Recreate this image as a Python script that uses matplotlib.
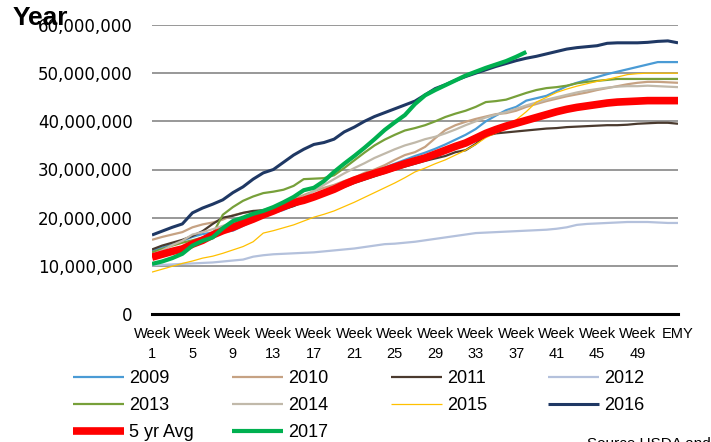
"""
plot.py
Cumulative weekly totals by marketing year, with the 5 year average.
"""

import matplotlib
matplotlib.use('Agg')
import matplotlib.pyplot as plt
from matplotlib.ticker import FuncFormatter

# categories: week 1 .. week 52, then end of marketing year
weeks = ['Week %d' % w for w in range(1, 53)] + ['EMY']
tick_idx = list(range(0, 52, 4)) + [52]
tick_labels = ['Week\n%d' % (i + 1) for i in range(0, 52, 4)] + ['EMY']

# values in millions
y2009 = [13.0, 13.8, 14.4, 15.2, 16.0, 16.6, 16.9, 17.0, 17.3, 18.3, 19.3, 20.2, 21.0, 21.6,
         22.5, 23.5, 24.3, 25.2, 26.2, 27.2, 28.0, 28.8, 29.6, 30.4, 31.2, 32.0, 32.8, 33.5,
         34.3, 35.2, 36.2, 37.2, 38.4, 40.0, 41.2, 42.3, 43.0, 44.3, 44.8, 45.3, 46.3, 47.3,
         48.0, 48.6, 49.2, 49.8, 50.3, 50.8, 51.3, 51.8, 52.3, 52.3, 52.3]
y2010 = [15.4, 16.0, 16.5, 17.0, 18.0, 18.6, 19.0, 19.6, 20.5, 21.0, 21.3, 21.6, 22.2, 22.8,
         23.8, 24.7, 25.5, 26.2, 26.8, 27.6, 28.3, 29.3, 30.0, 30.9, 32.0, 33.0, 33.6, 34.7,
         36.5, 38.2, 39.2, 39.9, 40.5, 41.0, 41.5, 41.7, 42.2, 43.0, 43.6, 44.2, 44.7, 45.2,
         45.6, 46.0, 46.5, 46.9, 47.3, 47.7, 48.0, 48.2, 48.2, 48.1, 48.0]
y2011 = [13.4, 14.2, 14.8, 15.4, 16.2, 17.2, 18.7, 20.0, 20.4, 21.0, 21.4, 21.5, 21.6, 21.8,
         22.4, 23.3, 24.2, 24.8, 25.6, 26.4, 27.2, 27.9, 28.6, 29.3, 30.0, 30.6, 31.2, 31.8,
         32.3, 32.8, 33.6, 34.0, 35.3, 37.0, 37.5, 37.7, 37.9, 38.1, 38.3, 38.5, 38.6, 38.8,
         38.9, 39.0, 39.1, 39.2, 39.2, 39.3, 39.5, 39.6, 39.7, 39.7, 39.5]
y2012 = [10.1, 10.2, 10.3, 10.4, 10.5, 10.6, 10.7, 10.9, 11.1, 11.3, 11.9, 12.2, 12.4, 12.5,
         12.6, 12.7, 12.8, 13.0, 13.2, 13.4, 13.6, 13.9, 14.2, 14.5, 14.6, 14.8, 15.0, 15.3,
         15.6, 15.9, 16.2, 16.5, 16.8, 16.9, 17.0, 17.1, 17.2, 17.3, 17.4, 17.5, 17.7, 18.0,
         18.5, 18.7, 18.8, 18.9, 19.0, 19.1, 19.1, 19.1, 19.0, 18.9, 18.9]
y2013 = [12.8, 13.5, 14.2, 14.8, 15.3, 15.9, 16.6, 20.6, 22.2, 23.5, 24.4, 25.1, 25.4, 25.8,
         26.6, 28.0, 28.1, 28.2, 28.8, 30.3, 31.9, 33.5, 35.0, 36.2, 37.2, 38.1, 38.6, 39.2,
         40.0, 40.9, 41.6, 42.2, 43.0, 44.0, 44.2, 44.5, 45.2, 45.9, 46.5, 46.9, 47.1, 47.4,
         47.9, 48.2, 48.4, 48.6, 48.8, 48.8, 48.8, 48.8, 48.8, 48.8, 48.8]
y2014 = [12.3, 13.2, 14.3, 15.2, 16.5, 17.0, 17.6, 18.3, 19.0, 20.0, 20.8, 21.3, 21.9, 22.5,
         23.3, 24.3, 25.5, 26.8, 28.0, 29.2, 30.3, 31.3, 32.4, 33.3, 34.2, 35.0, 35.6, 36.3,
         36.8, 37.5, 38.3, 39.2, 40.0, 40.8, 41.4, 41.9, 42.6, 43.3, 43.9, 44.5, 45.0, 45.5,
         46.0, 46.4, 46.7, 47.0, 47.2, 47.3, 47.3, 47.4, 47.3, 47.2, 47.1]
y2015 = [8.7, 9.3, 9.9, 10.5, 11.0, 11.6, 12.0, 12.6, 13.3, 14.0, 15.0, 16.8, 17.3, 17.9,
         18.5, 19.3, 20.1, 20.7, 21.4, 22.3, 23.2, 24.2, 25.2, 26.2, 27.2, 28.3, 29.5, 30.3,
         31.2, 32.0, 33.0, 34.0, 35.2, 36.6, 37.6, 38.5, 40.3, 42.0, 44.0, 45.0, 46.0, 46.7,
         47.3, 47.8, 48.3, 48.7, 49.2, 49.7, 49.9, 50.0, 50.0, 50.0, 50.0]
y2016 = [16.4, 17.2, 18.0, 18.7, 21.0, 22.0, 22.8, 23.7, 25.2, 26.4, 28.0, 29.3, 30.0, 31.5,
         33.0, 34.2, 35.2, 35.6, 36.3, 37.8, 38.8, 40.0, 41.0, 41.8, 42.6, 43.4, 44.2, 45.5,
         46.8, 47.6, 48.5, 49.3, 50.0, 50.7, 51.4, 52.0, 52.6, 53.1, 53.5, 54.0, 54.5, 55.0,
         55.3, 55.5, 55.7, 56.2, 56.3, 56.3, 56.3, 56.4, 56.6, 56.7, 56.3]
avg5 = [11.8, 12.4, 13.0, 13.5, 14.5, 15.3, 16.4, 17.3, 18.0, 18.9, 19.7, 20.6, 21.4, 22.3,
        23.1, 23.6, 24.3, 25.1, 25.9, 26.9, 27.8, 28.5, 29.2, 29.8, 30.5, 31.2, 31.8, 32.4,
        33.2, 34.0, 34.8, 35.5, 36.5, 37.5, 38.3, 39.0, 39.6, 40.2, 40.8, 41.4, 42.0, 42.5,
        42.9, 43.2, 43.5, 43.8, 44.0, 44.1, 44.2, 44.3, 44.3, 44.3, 44.3]
y2017 = [10.4, 10.9, 11.6, 12.5, 14.2, 15.2, 15.9, 17.8, 19.3, 20.0, 20.8, 21.4, 22.2, 23.2,
         24.3, 25.7, 26.2, 27.6, 29.5, 31.2, 32.8, 34.5, 36.3, 38.2, 39.8, 41.3, 43.6, 45.4,
         46.5, 47.5, 48.5, 49.5, 50.3, 51.1, 51.8, 52.5, 53.4, 54.4]

# label, values, colour, line width (drawing order)
series = [
    ('2009', y2009, '#4a9bd5', 1.6),
    ('2010', y2010, '#c6a283', 1.6),
    ('2011', y2011, '#4a3a2e', 1.6),
    ('2012', y2012, '#b4c1dc', 1.6),
    ('2013', y2013, '#77a03a', 1.6),
    ('2014', y2014, '#c1b9aa', 1.6),
    ('2015', y2015, '#ffc000', 0.9),
    ('2016', y2016, '#1f3864', 2.2),
    ('5 yr Avg', avg5, '#ff0000', 5.5),
    ('2017', y2017, '#00b050', 3.0),
]

fig = plt.figure(figsize=(7.11, 4.42), dpi=100)
ax = fig.add_axes([152 / 711, 1 - 314 / 442, 526 / 711, 289 / 442])

lines = {}
for name, vals, col, lw in series:
    xs = list(range(len(vals)))
    ys = [v * 1e6 for v in vals]
    ln, = ax.plot(xs, ys, color=col, lw=lw, label=name, solid_capstyle='butt')
    lines[name] = ln

ax.set_xlim(0, 52)
ax.set_ylim(0, 60e6)
ax.set_yticks([i * 10e6 for i in range(7)])
ax.yaxis.set_major_formatter(FuncFormatter(lambda v, p: '{:,.0f}'.format(v)))
ax.grid(axis='y', color='#868686', lw=1.2)
ax.set_axisbelow(True)
for s in ['top', 'right', 'left']:
    ax.spines[s].set_visible(False)
ax.spines['bottom'].set_color('black')
ax.spines['bottom'].set_linewidth(2.2)
ax.spines['bottom'].set_zorder(5)

ax.set_xticks(tick_idx)
ax.set_xticklabels(tick_labels, fontsize=10.5, family='Liberation Sans',
                   linespacing=1.5, va='top')
ax.tick_params(axis='x', length=0, pad=9.5)
ax.tick_params(axis='y', length=0, pad=14, labelsize=12)

# legend, one column each, laid out in reading order
cols = [['2009', '2013', '5 yr Avg'], ['2010', '2014', '2017'],
        ['2011', '2015'], ['2012', '2016']]
col_x = [73, 232, 391, 548]
for names, x in zip(cols, col_x):
    fig.legend([lines[n] for n in names], names, loc='upper left',
               bbox_to_anchor=(x / 711, 1 - 370 / 442), frameon=False,
               borderpad=0, borderaxespad=0, handlelength=2.8,
               handletextpad=0.3, labelspacing=0.56,
               prop={'family': 'Liberation Sans', 'size': 13})

fig.text(13 / 711, 1 - 25 / 442, 'Year', fontsize=19, fontweight='bold',
         family='Liberation Sans', va='baseline', ha='left')
fig.text(587 / 711, 5 / 442, 'Source USDA and', fontsize=11,
         family='Liberation Sans', va='top', ha='left')

fig.savefig('out.png', dpi=100)
